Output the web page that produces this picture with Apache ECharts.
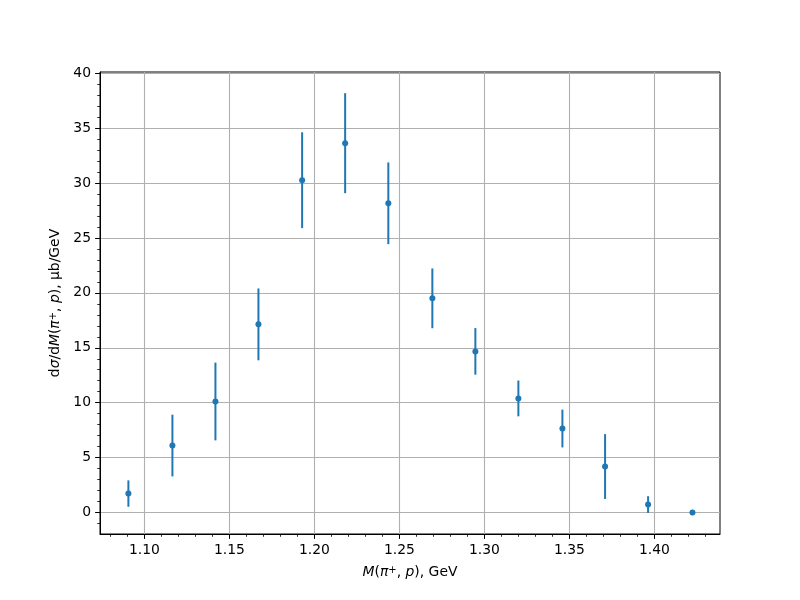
<!DOCTYPE html>
<html><head><meta charset="utf-8">
<script src="https://cdn.jsdelivr.net/npm/echarts@6/dist/echarts.min.js"></script>
<style>html,body{margin:0;padding:0;background:#fff}#c{width:800px;height:600px}</style>
</head><body><div id="c"></div>
<script>
// Invariant mass bin centres (GeV)
const massGeV = [1.0906, 1.1165, 1.1418, 1.1671, 1.1928, 1.2181, 1.2435, 1.2694, 1.2947, 1.3200, 1.3459, 1.3710, 1.3963, 1.4224];
// dσ/dM values (μb/GeV)
const dsigma = [1.73, 6.10, 10.11, 17.13, 30.25, 33.62, 28.15, 19.50, 14.67, 10.39, 7.65, 4.19, 0.73, 0.00];
// symmetric errors
const dsigmaErr = [1.20, 2.81, 3.54, 3.27, 4.36, 4.55, 3.72, 2.72, 2.12, 1.63, 1.72, 2.95, 0.76, 0.00];
// tick labels / tick positions
const xTicks = [1.10, 1.15, 1.20, 1.25, 1.30, 1.35, 1.40];
const xMinorTicks = [1.08, 1.09, 1.11, 1.12, 1.13, 1.14, 1.16, 1.17, 1.18, 1.19, 1.21, 1.22, 1.23, 1.24, 1.26, 1.27, 1.28, 1.29, 1.31, 1.32, 1.33, 1.34, 1.36, 1.37, 1.38, 1.39, 1.41, 1.42, 1.43];
const yTicks = [0, 5, 10, 15, 20, 25, 30, 35, 40];
const yMinorTicks = [-1, 1, 2, 3, 4, 6, 7, 8, 9, 11, 12, 13, 14, 16, 17, 18, 19, 21, 22, 23, 24, 26, 27, 28, 29, 31, 32, 33, 34, 36, 37, 38, 39];
const xRange = [1.0739, 1.4386];
const yRange = [-1.95, 40.1];

const FONT = 'DejaVu Sans';
const C = '#1f77b4';
const pts = massGeV.map((x, i) => [x, dsigma[i], dsigmaErr[i]]);
const rich = {
  i: {fontFamily: FONT, fontStyle: 'italic', fontSize: 13.9, color: '#000'},
  s: {fontFamily: FONT, fontSize: 10, color: '#000', verticalAlign: 'top', lineHeight: 10}
};
const nameStyle = {fontFamily: FONT, fontSize: 13.9, color: '#000', rich: rich};
const gridRect = {left: 100, right: 80, top: 72, bottom: 66};

const chart = echarts.init(document.getElementById('c'), null, {renderer: 'canvas'});
chart.setOption({
  animation: false,
  backgroundColor: '#fff',
  grid: [
    Object.assign({show: true, borderColor: '#000', borderWidth: 1, backgroundColor: 'transparent'}, gridRect),
    Object.assign({show: false}, gridRect)
  ],
  xAxis: [
    {
      gridIndex: 0, type: 'value', min: xRange[0], max: xRange[1],
      name: '{i|M}({i|π}{s|+}, {i|p}), GeV', nameLocation: 'middle', nameGap: 31, nameTextStyle: nameStyle,
      axisLine: {show: true, onZero: false, lineStyle: {color: '#000', width: 1}},
      axisTick: {show: true, length: 4.9, customValues: xTicks, lineStyle: {color: '#000', width: 1}},
      axisLabel: {fontFamily: FONT, fontSize: 13.9, color: '#000', margin: 9, customValues: xTicks,
        formatter: v => v.toFixed(2)},
      splitLine: {show: true, lineStyle: {color: '#b0b0b0', width: 1.1}}
    },
    {
      gridIndex: 1, type: 'value', min: xRange[0], max: xRange[1],
      axisLine: {show: false, onZero: false},
      axisTick: {show: true, length: 2.8, customValues: xMinorTicks, lineStyle: {color: '#000', width: 0.8}},
      axisLabel: {show: false, customValues: xMinorTicks},
      splitLine: {show: false}
    }
  ],
  yAxis: [
    {
      gridIndex: 0, type: 'value', min: yRange[0], max: yRange[1],
      name: 'd{i|σ}/d{i|M}({i|π}{s|+}, {i|p}), μb/GeV', nameLocation: 'middle', nameGap: 36, nameRotate: 90, nameTextStyle: nameStyle,
      axisLine: {show: true, onZero: false, lineStyle: {color: '#000', width: 1}},
      axisTick: {show: true, length: 4.9, customValues: yTicks, lineStyle: {color: '#000', width: 1}},
      axisLabel: {fontFamily: FONT, fontSize: 13.9, color: '#000', margin: 9, customValues: yTicks,
        formatter: v => String(Math.round(v))},
      splitLine: {show: true, lineStyle: {color: '#b0b0b0', width: 1.1}}
    },
    {
      gridIndex: 1, type: 'value', min: yRange[0], max: yRange[1],
      axisLine: {show: false, onZero: false},
      axisTick: {show: true, length: 2.8, customValues: yMinorTicks, lineStyle: {color: '#000', width: 0.8}},
      axisLabel: {show: false, customValues: yMinorTicks},
      splitLine: {show: false}
    }
  ],
  series: [
    {
      type: 'custom', data: pts, z: 2, xAxisIndex: 0, yAxisIndex: 0,
      renderItem: (params, api) => {
        const x = api.value(0), y = api.value(1), e = api.value(2);
        const p1 = api.coord([x, y - e]), p2 = api.coord([x, y + e]);
        return {type: 'line', shape: {x1: p1[0], y1: p1[1], x2: p2[0], y2: p2[1]}, style: {stroke: C, lineWidth: 2}};
      },
      encode: {x: 0, y: 1}
    },
    {
      type: 'scatter', data: pts.map(p => [p[0], p[1]]), symbol: 'circle', symbolSize: 6,
      xAxisIndex: 0, yAxisIndex: 0, itemStyle: {color: C, opacity: 1}, z: 3
    }
  ]
});
</script></body></html>
